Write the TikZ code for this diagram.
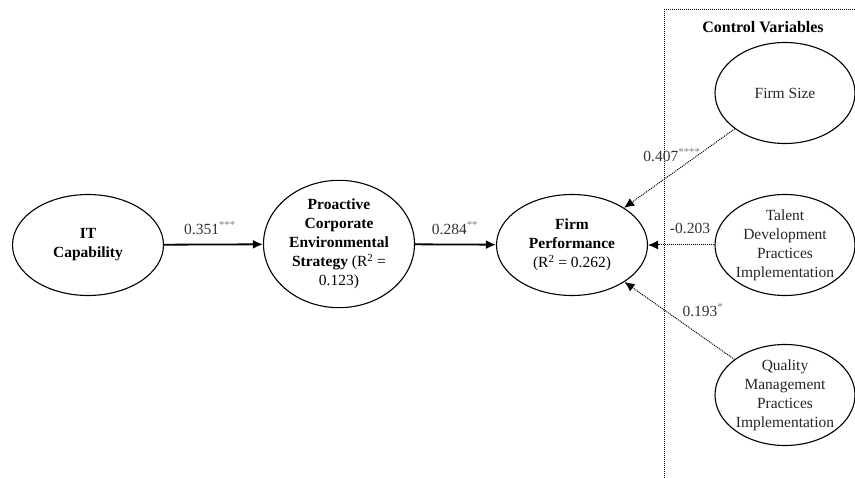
\documentclass[tikz,border=0pt]{standalone}
\usepackage{fontspec}
\setmainfont{Liberation Serif}
\usepackage{tikz}
\usetikzlibrary{arrows.meta,positioning,shapes.geometric}

\begin{document}
\begin{tikzpicture}[
  x=1pt, y=-1pt,
  construct/.style={draw, ellipse, line width=1.1pt, minimum width=151pt, minimum height=101pt,
    inner sep=0pt, align=center, font=\fontsize{15.5}{19}\selectfont},
  control/.style={construct, minimum width=140pt, text=black!85},
  path/.style={-{Latex[length=10pt,width=9pt]}, line width=1.8pt},
  ctrlpath/.style={-{Latex[length=10pt,width=9pt]}, densely dotted, line width=1pt},
  coef/.style={font=\fontsize{15.5}{19}\selectfont, text=black!80, inner sep=0pt},
]
  \useasboundingbox (0,0) rectangle (855,478);

  % Control variables frame
  \draw[densely dotted, line width=1pt] (664,478) -- (664,10) -- (860,10);
  \node[font=\fontsize{16}{19}\selectfont\bfseries] (ctrltitle) at (763,27) {Control Variables};

  % Main constructs
  \node[construct] (itc) at (88,245) {\textbf{IT}\\\textbf{Capability}};
  \node[construct] (pces) at (339,244)
    {\textbf{Proactive}\\\textbf{Corporate}\\\textbf{Environmental}\\\textbf{Strategy} (R\textsuperscript{2} =\\0.123)};
  \node[construct] (fp) at (572,245) {\textbf{Firm}\\\textbf{Performance}\\(R\textsuperscript{2} = 0.262)};

  % Control constructs
  \node[control] (fs) at (785,93) {Firm Size};
  \node[control] (tdp) at (785,245) {Talent\\Development\\Practices\\Implementation};
  \node[control] (qmp) at (785,395) {Quality\\Management\\Practices\\Implementation};

  % Paths
  \draw[path] (itc) -- (pces);
  \draw[path] (pces) -- (fp);
  \draw[ctrlpath] (fs) -- (fp);
  \draw[ctrlpath] (tdp) -- (fp);
  \draw[ctrlpath] (qmp) -- (fp);

  % Coefficients
  \node[coef] (c1) at (210,228) {0.351\textsuperscript{\color{gray}***}};
  \node[coef] (c2) at (455,228) {0.284\textsuperscript{\color{gray}**}};
  \node[coef] (c3) at (672,155) {0.407\textsuperscript{\color{gray}****}};
  \node[coef] (c4) at (690,228) {-0.203};
  \node[coef] (c5) at (703,310) {0.193\textsuperscript{\color{gray}*}};
\end{tikzpicture}
\end{document}
